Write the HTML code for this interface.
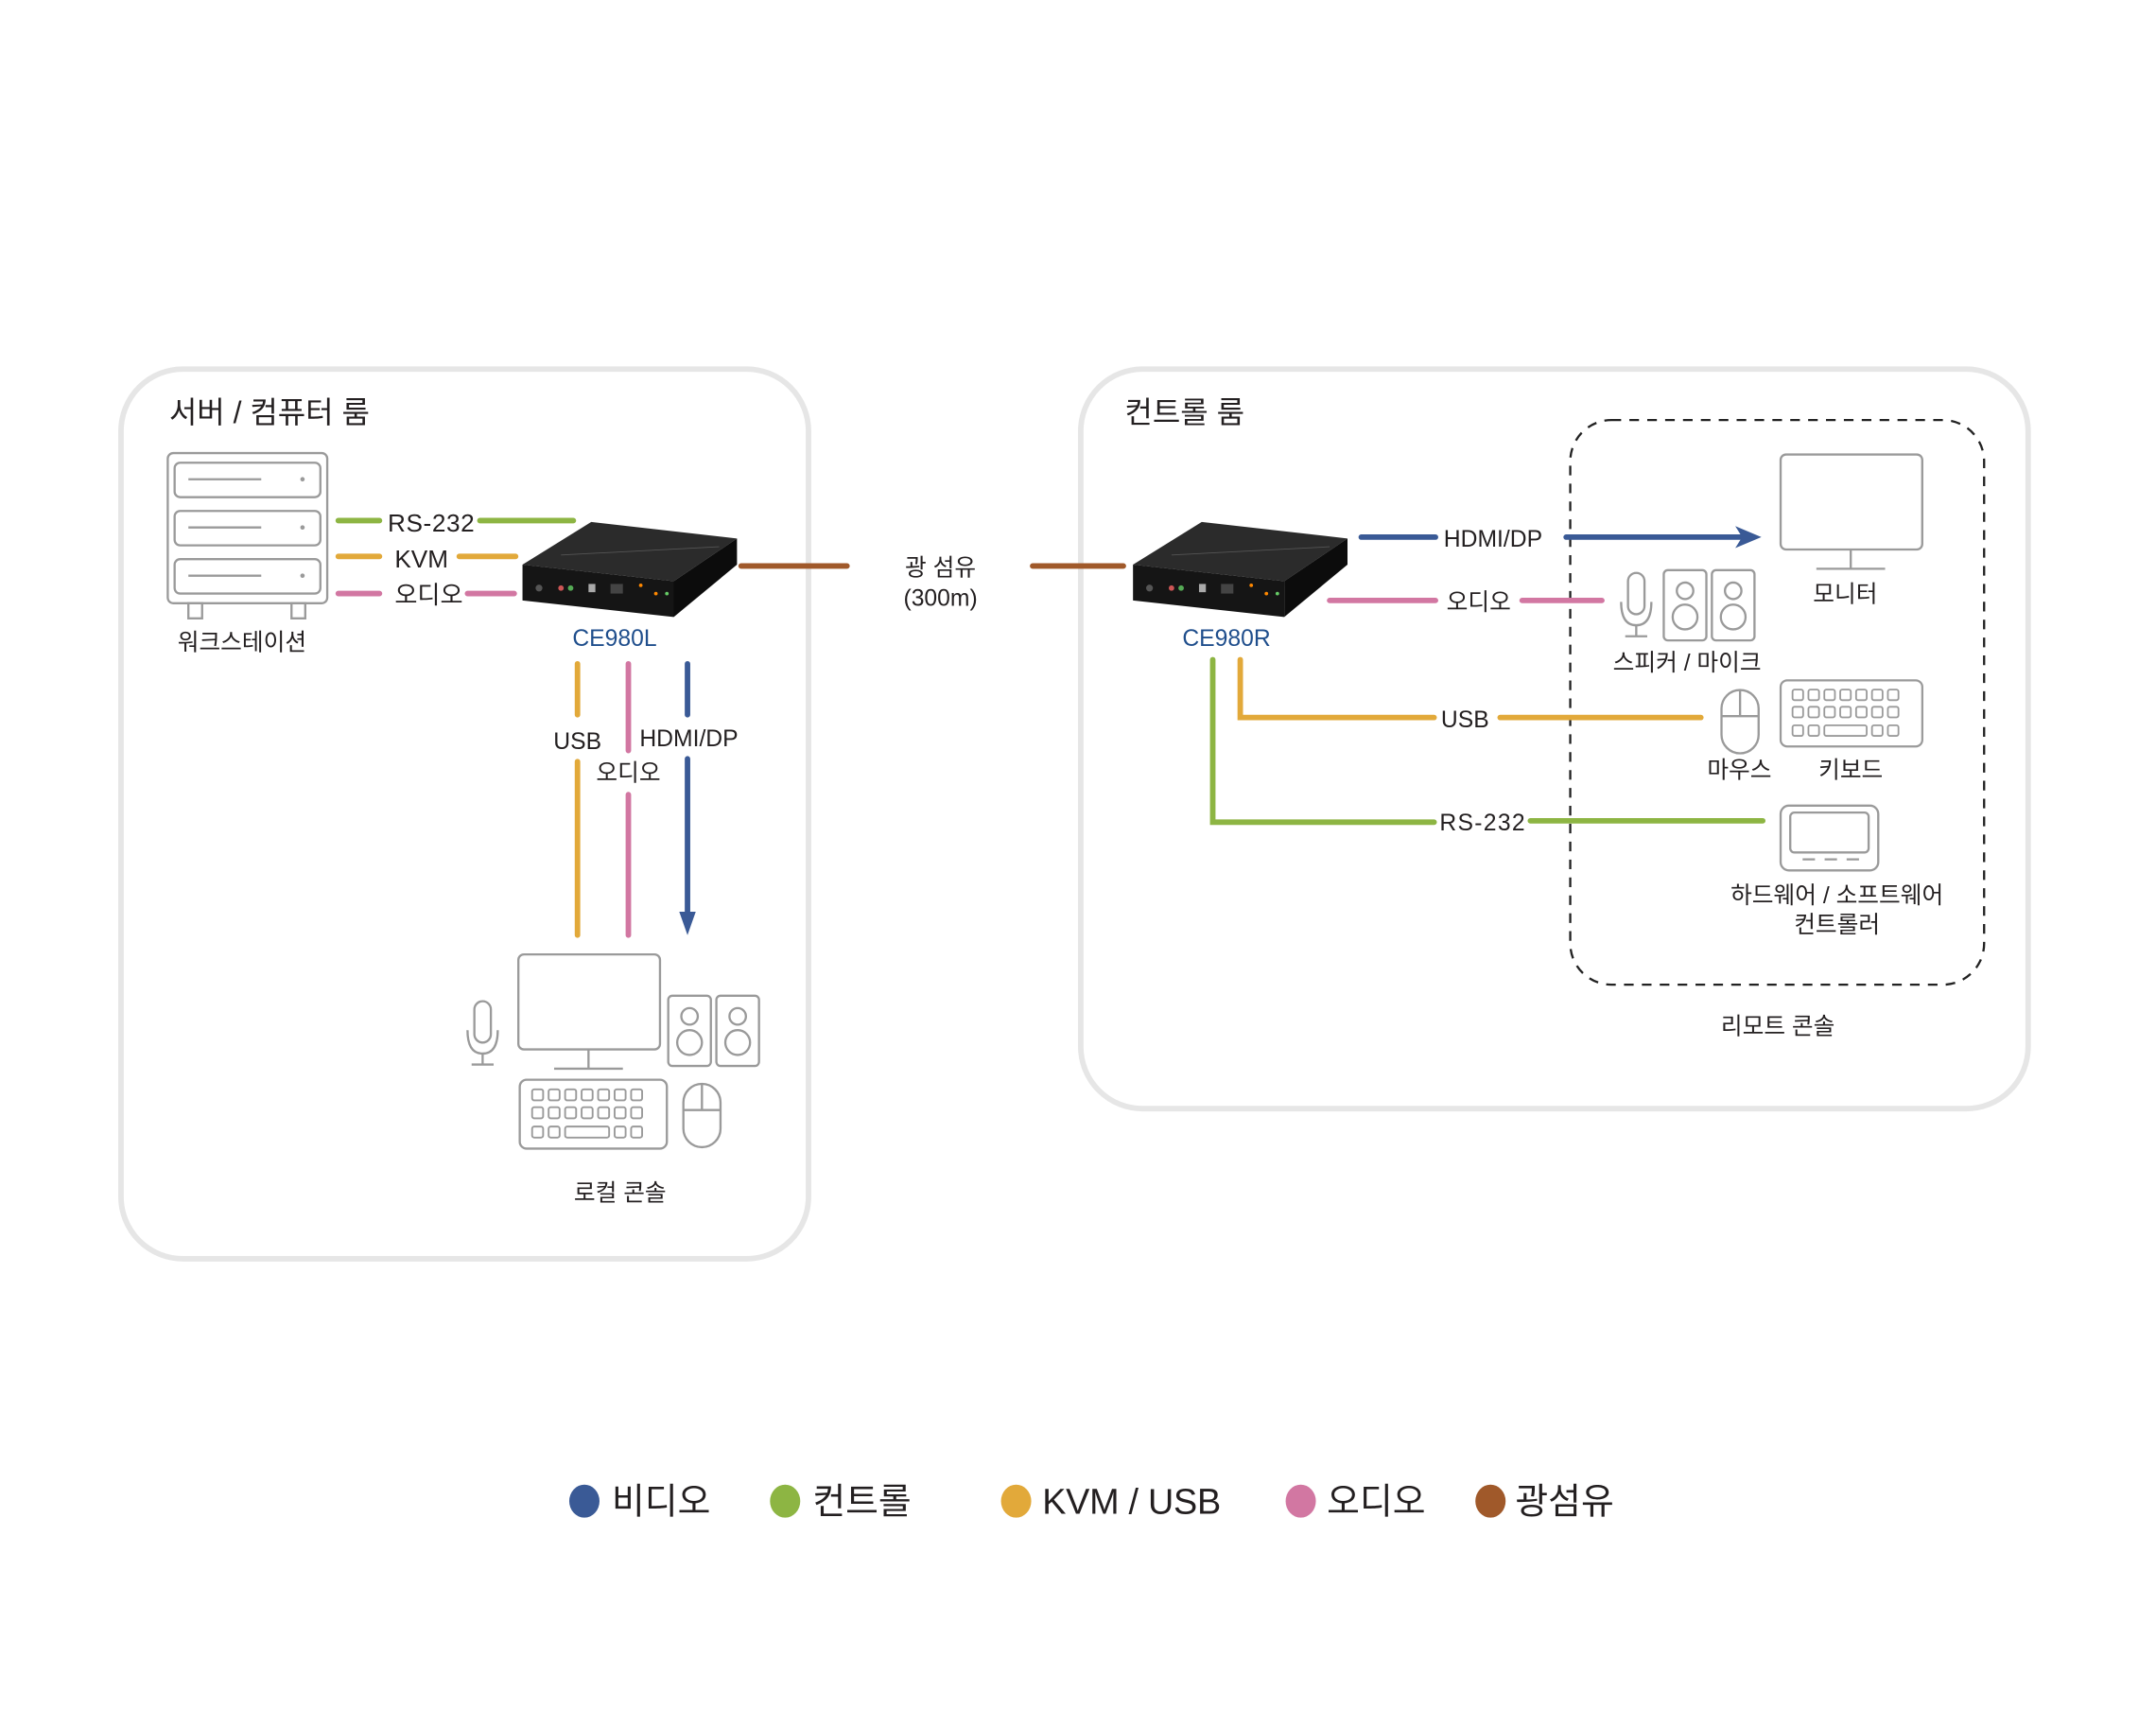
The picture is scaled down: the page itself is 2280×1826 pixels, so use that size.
<!DOCTYPE html>
<html><head><meta charset="utf-8"><style>
html,body{margin:0;padding:0;background:#fff;}
svg{display:block;}
text{font-family:"Liberation Sans","Noto Sans CJK KR",sans-serif;fill:#231f20;}
</style></head><body>
<svg width="2280" height="1826" viewBox="0 0 1568 1254" preserveAspectRatio="none" xmlns="http://www.w3.org/2000/svg">
<defs>
<g id="kb" fill="none" stroke="#9a9a9a" stroke-width="1.6">
<rect x="0" y="0" width="107" height="50" rx="5"/>
<g stroke-width="1.3">
<rect x="9" y="7" width="8" height="8" rx="1.5"/><rect x="21" y="7" width="8" height="8" rx="1.5"/><rect x="33" y="7" width="8" height="8" rx="1.5"/><rect x="45" y="7" width="8" height="8" rx="1.5"/><rect x="57" y="7" width="8" height="8" rx="1.5"/><rect x="69" y="7" width="8" height="8" rx="1.5"/><rect x="81" y="7" width="8" height="8" rx="1.5"/>
<rect x="9" y="20" width="8" height="8" rx="1.5"/><rect x="21" y="20" width="8" height="8" rx="1.5"/><rect x="33" y="20" width="8" height="8" rx="1.5"/><rect x="45" y="20" width="8" height="8" rx="1.5"/><rect x="57" y="20" width="8" height="8" rx="1.5"/><rect x="69" y="20" width="8" height="8" rx="1.5"/><rect x="81" y="20" width="8" height="8" rx="1.5"/>
<rect x="9" y="34" width="8" height="8" rx="1.5"/><rect x="21" y="34" width="8" height="8" rx="1.5"/><rect x="33" y="34" width="32" height="8" rx="1.5"/><rect x="69" y="34" width="8" height="8" rx="1.5"/><rect x="81" y="34" width="8" height="8" rx="1.5"/>
</g></g>
<g id="mic" fill="none" stroke="#9a9a9a" stroke-width="1.6">
<rect x="5" y="0" width="12" height="30" rx="6"/><path d="M0 21 Q0 38 11 38 Q22 38 22 21 M11 38 V46 M3 46 H19"/>
</g>
<g id="spk" fill="none" stroke="#9a9a9a" stroke-width="1.6">
<rect x="0" y="0" width="31" height="51" rx="3"/><circle cx="15.5" cy="15" r="6"/><circle cx="15.5" cy="34" r="9"/>
</g>
<g id="mouse" fill="none" stroke="#9a9a9a" stroke-width="1.6">
<rect x="0" y="0" width="27" height="46" rx="13.5"/><path d="M13.5 0 V19 M0 19 H27"/>
</g>
<g id="mon" fill="none" stroke="#9a9a9a" stroke-width="1.6">
<rect x="0" y="0" width="103" height="69" rx="4"/><path d="M51 69 V83 M26 83 H76"/>
</g>
<g id="dev">
<polygon points="2,32 52,1 158,13 112,44" fill="#2b2b2b"/>
<polygon points="2,32 112,44 112,70 2,58" fill="#151515"/>
<polygon points="112,44 158,13 158,32 112,70" fill="#0c0c0c"/>
<circle cx="14" cy="49" r="2.5" fill="#555"/><circle cx="30" cy="49" r="2" fill="#c55"/><circle cx="37" cy="49" r="2" fill="#5a5"/>
<rect x="50" y="46" width="5" height="6" fill="#aaa"/><rect x="66" y="46" width="9" height="7" fill="#444"/>
<circle cx="88" cy="47" r="1.3" fill="#f80"/><circle cx="99" cy="53" r="1.3" fill="#f80"/><circle cx="107" cy="53" r="1.3" fill="#6c6"/>
<path d="M30 25 L145 19" stroke="#555" stroke-width="0.6"/>
</g>
</defs>

<rect x="88" y="268" width="500" height="646" rx="45" fill="none" stroke="#e6e6e6" stroke-width="4"/>
<rect x="786" y="268" width="689" height="537" rx="45" fill="none" stroke="#e6e6e6" stroke-width="4"/>
<text x="123" y="307" font-size="22">서버 / 컴퓨터 룸</text>
<text x="818" y="307" font-size="22">컨트롤 룸</text>

<g fill="none" stroke="#9a9a9a" stroke-width="1.6">
<rect x="122" y="329" width="116" height="109" rx="4"/>
<rect x="127" y="336" width="106" height="25" rx="4"/>
<rect x="127" y="371" width="106" height="25" rx="4"/>
<rect x="127" y="406" width="106" height="25" rx="4"/>
<path d="M137 348 H190 M137 383 H190 M137 418 H190"/>
<rect x="137" y="438" width="10" height="11"/><rect x="212" y="438" width="10" height="11"/>
</g>
<g fill="#9a9a9a"><circle cx="220" cy="348" r="1.6"/><circle cx="220" cy="383" r="1.6"/><circle cx="220" cy="418" r="1.6"/></g>
<text x="176" y="472" font-size="17" text-anchor="middle">워크스테이션</text>

<g stroke-width="4" stroke-linecap="round" fill="none">
<path d="M246 378 H276 M349 378 H417" stroke="#8db543"/>
<path d="M246 404 H276 M334 404 H375" stroke="#e2a93a"/>
<path d="M246 431 H276 M340 431 H374" stroke="#d277a2"/>
</g>
<text x="282" y="386" font-size="18" textLength="63">RS-232</text>
<text x="287" y="412" font-size="18">KVM</text>
<text x="287" y="438" font-size="18">오디오</text>

<use href="#dev" x="378" y="378"/>
<text x="447" y="469" font-size="17" text-anchor="middle" style="fill:#1f4e8c">CE980L</text>

<g stroke="#a0592a" stroke-width="4" stroke-linecap="round"><path d="M539 411 H616 M751 411 H817"/></g>
<text x="684" y="418" font-size="17" text-anchor="middle">광 섬유</text>
<text x="684" y="440" font-size="17" text-anchor="middle">(300m)</text>

<g stroke-width="4" stroke-linecap="round" fill="none">
<path d="M420 482 V519 M420 553 V679" stroke="#e2a93a"/>
<path d="M457 482 V545 M457 577 V679" stroke="#d277a2"/>
<path d="M500 482 V519 M500 551 V666" stroke="#3a5a96"/>
</g>
<polygon points="494,662 506,662 500,679" fill="#3a5a96"/>
<text x="420" y="544" font-size="17" text-anchor="middle">USB</text>
<text x="501" y="542" font-size="17" text-anchor="middle">HDMI/DP</text>
<text x="457" y="567" font-size="17" text-anchor="middle">오디오</text>

<use href="#mon" x="377" y="693"/>
<use href="#mic" x="340" y="727"/>
<use href="#spk" x="486" y="723"/><use href="#spk" x="521" y="723"/>
<use href="#kb" x="378" y="784"/>
<use href="#mouse" x="497" y="787"/>
<text x="451" y="872" font-size="17" text-anchor="middle">로컬 콘솔</text>

<use href="#dev" x="822" y="378"/>
<text x="892" y="469" font-size="17" text-anchor="middle" style="fill:#1f4e8c">CE980R</text>

<rect x="1142" y="305" width="301" height="410" rx="30" fill="none" stroke="#222" stroke-width="1.6" stroke-dasharray="7,6"/>

<g stroke-width="4" stroke-linecap="round" fill="none">
<path d="M990 390 H1044 M1139 390 H1266" stroke="#3a5a96"/>
<path d="M967 436 H1044 M1107 436 H1165" stroke="#d277a2"/>
<path d="M902 479 V521 H1043 M1091 521 H1237" stroke="#e2a93a"/>
<path d="M882 479 V597 H1043 M1113 596 H1282" stroke="#8db543"/>
</g>
<polygon points="1262,382 1281,390 1262,398 1267,390" fill="#3a5a96"/>
<text x="1050" y="397" font-size="17">HDMI/DP</text>
<text x="1052" y="443" font-size="17">오디오</text>
<text x="1048" y="528" font-size="17">USB</text>
<text x="1047" y="603" font-size="17" textLength="62">RS-232</text>

<use href="#mon" x="1295" y="330"/>
<text x="1342" y="437" font-size="17" text-anchor="middle">모니터</text>
<use href="#mic" x="1179" y="416"/>
<use href="#spk" x="1210" y="414"/><use href="#spk" x="1245" y="414"/>
<text x="1227" y="487" font-size="17" text-anchor="middle">스피커 / 마이크</text>
<use href="#mouse" x="1252" y="501"/>
<g transform="translate(1295,494) scale(0.963,0.96)"><use href="#kb"/></g>
<text x="1265" y="565" font-size="17" text-anchor="middle">마우스</text>
<text x="1346" y="565" font-size="17" text-anchor="middle">키보드</text>
<g fill="none" stroke="#9a9a9a" stroke-width="1.6">
<rect x="1295" y="585" width="71" height="47" rx="6"/>
<rect x="1302" y="590" width="57" height="29" rx="3"/>
<path d="M1311 624 H1320 M1327 624 H1336 M1343 624 H1352"/>
</g>
<text x="1336" y="656" font-size="17" text-anchor="middle">하드웨어 / 소프트웨어</text>
<text x="1336" y="677" font-size="17" text-anchor="middle">컨트롤러</text>
<text x="1293" y="751" font-size="17" text-anchor="middle">리모트 콘솔</text>

<ellipse cx="425" cy="1090" rx="11" ry="12" fill="#3a5a96"/>
<ellipse cx="571" cy="1090" rx="11" ry="12" fill="#8db543"/>
<ellipse cx="739" cy="1090" rx="11" ry="12" fill="#e2a93a"/>
<ellipse cx="946" cy="1090" rx="11" ry="12" fill="#d277a2"/>
<ellipse cx="1084" cy="1090" rx="11" ry="12" fill="#a0592a"/>
<g font-size="26">
<text x="445" y="1099">비디오</text>
<text x="591" y="1099">컨트롤</text>
<text x="758" y="1099" textLength="130">KVM / USB</text>
<text x="965" y="1099">오디오</text>
<text x="1102" y="1099">광섬유</text>
</g>
</svg>
</body></html>
